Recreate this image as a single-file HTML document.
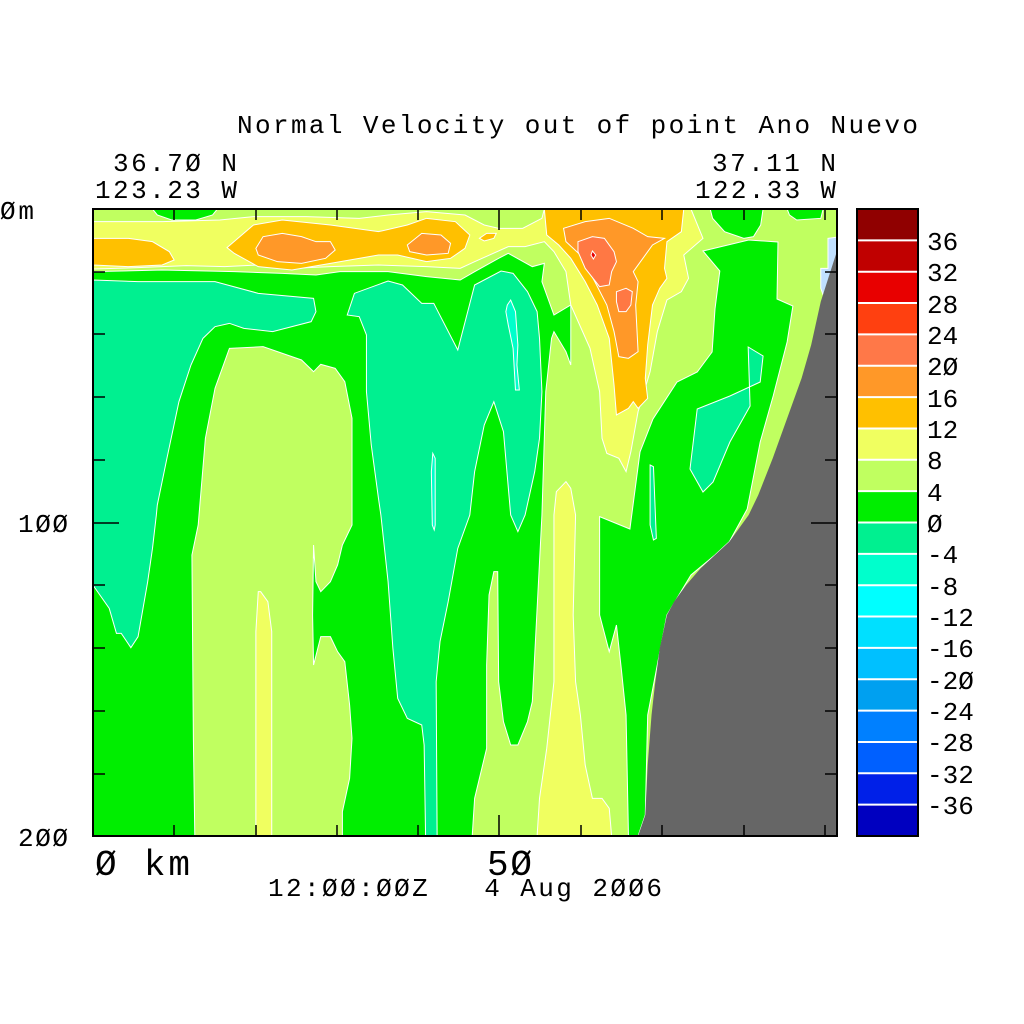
<!DOCTYPE html>
<html><head><meta charset="utf-8"><style>
html,body{margin:0;padding:0;background:#fff;}
svg{display:block;}
text{font-family:"Liberation Mono","DejaVu Sans Mono",monospace;fill:#000;white-space:pre;}
</style></head><body>
<svg width="1024" height="1024" viewBox="0 0 1024 1024" xmlns="http://www.w3.org/2000/svg" xml:space="preserve">
<defs><clipPath id="pc"><rect x="93" y="209" width="744" height="627"/></clipPath></defs>
<g clip-path="url(#pc)">
<rect x="93" y="209" width="744" height="627" fill="#00ee00"/>
<g transform="translate(90,205) scale(0.48077,0.33333)" stroke="#fff" stroke-width="1">
<polygon vector-effect="non-scaling-stroke" fill="#c0ff60" points="6,12 1554,12 1554,1893 795,1893 800,1780 825,1630 825,1380 830,1170 840,1100 848,1100 850,1430 860,1550 875,1620 890,1620 910,1550 920,1490 940,930 948,560 960,400 965,380 990,440 1000,480 1000,300 965,330 940,230 945,175 920,185 870,145 850,160 800,200 770,225 700,215 620,200 520,200 470,210 400,205 300,200 150,195 6,200"/>
<polygon vector-effect="non-scaling-stroke" fill="#00ee00" points="130,12 265,12 255,30 220,45 170,45 140,30"/>
<polygon vector-effect="non-scaling-stroke" fill="#00ee00" points="1290,12 1400,12 1395,60 1380,95 1360,100 1320,80 1295,40"/>
<polygon vector-effect="non-scaling-stroke" fill="#00ee00" points="1450,12 1525,12 1520,40 1470,45 1455,30"/>
<polygon vector-effect="non-scaling-stroke" fill="#00ee00" points="1275,138 1370,105 1431,111 1429,282 1462,303 1450,411 1421,573 1394,711 1367,912 1330,1010 1300,1050 1250,1110 1200,1230 1180,1380 1160,1530 1155,1830 1140,1893 1120,1893 1115,1530 1105,1390 1095,1260 1080,1340 1060,1230 1060,935 1123,972 1144,741 1171,642 1221,531 1263,501 1294,441 1300,312 1310,198"/>
<polygon vector-effect="non-scaling-stroke" fill="#00f090" points="6,225 100,230 260,230 350,265 465,280 470,320 460,350 380,380 320,370 290,355 260,365 235,400 210,480 185,590 160,760 140,900 138,930 130,1030 120,1130 100,1295 85,1328 65,1285 55,1285 40,1210 6,1140"/>
<polygon vector-effect="non-scaling-stroke" fill="#00f090" points="535,330 550,265 620,228 650,240 690,295 715,295 765,435 800,240 855,198 880,205 910,260 930,320 935,400 940,560 935,700 925,800 905,930 890,980 875,930 860,680 840,590 820,660 800,800 790,930 765,1030 745,1190 728,1310 720,1430 722,1893 698,1893 695,1620 690,1560 660,1540 640,1480 630,1330 620,1130 605,930 600,880 585,720 575,560 575,390 560,335"/>
<polygon vector-effect="non-scaling-stroke" fill="#00f090" points="1369,426 1400,453 1394,531 1331,573 1263,612 1248,792 1275,861 1296,831 1331,711 1373,603"/>
<polygon vector-effect="non-scaling-stroke" fill="#00f090" points="1165,780 1172,785 1178,1000 1172,1005 1165,960"/>
<polygon vector-effect="non-scaling-stroke" fill="#00ffcc" points="868,300 875,285 885,320 890,420 888,480 893,555 885,555 880,430 870,360 865,320"/>
<polygon vector-effect="non-scaling-stroke" fill="#00ffcc" points="713,745 718,760 718,960 716,975 712,960 710,800"/>
<polygon vector-effect="non-scaling-stroke" fill="#c0ff60" points="290,430 360,425 440,465 465,500 480,478 510,490 530,530 545,640 545,960 525,1020 515,1080 500,1130 480,1160 470,1130 465,1020 463,1230 465,1380 480,1295 500,1295 515,1340 530,1370 540,1500 545,1600 540,1720 525,1820 525,1893 218,1893 215,1600 212,1050 225,960 240,700 260,550"/>
<polygon vector-effect="non-scaling-stroke" fill="#f0ff60" points="350,1160 355,1160 370,1190 378,1280 378,1893 345,1893 345,1280"/>
<polygon vector-effect="non-scaling-stroke" fill="#f0ff60" points="970,860 990,830 1000,850 1010,930 1005,1230 1010,1430 1020,1530 1030,1680 1045,1780 1065,1780 1080,1810 1085,1893 930,1893 935,1780 950,1630 965,1430 965,930"/>
<polygon vector-effect="non-scaling-stroke" fill="#f0ff60" points="6,50 150,50 270,45 340,35 450,35 560,40 620,30 700,20 780,30 820,60 850,70 900,70 940,40 945,12 1250,12 1275,100 1235,150 1245,220 1230,260 1200,285 1180,380 1165,500 1140,620 1125,740 1115,800 1100,760 1075,745 1065,700 1060,560 1040,430 1000,300 990,200 965,140 945,110 905,125 870,125 800,170 770,190 700,185 600,180 500,185 420,190 350,180 280,185 200,182 100,188 6,192"/>
<polygon vector-effect="non-scaling-stroke" fill="#ffc000" points="6,100 80,100 130,110 165,140 175,165 150,180 80,185 6,180"/>
<polygon vector-effect="non-scaling-stroke" fill="#ffc000" points="285,128 340,60 400,45 500,60 600,80 660,60 700,40 760,50 790,90 780,130 750,160 700,170 640,150 600,150 500,175 420,195 350,185 300,145"/>
<polygon vector-effect="non-scaling-stroke" fill="#ffc000" points="810,100 825,85 845,85 840,100 820,108"/>
<polygon vector-effect="non-scaling-stroke" fill="#ffc000" points="945,12 1235,12 1230,80 1200,110 1195,190 1200,220 1185,250 1170,300 1160,420 1155,520 1160,580 1140,610 1130,590 1120,610 1095,630 1090,540 1080,400 1055,300 1030,230 1000,160 975,120 950,90"/>
<polygon vector-effect="non-scaling-stroke" fill="#ff9828" points="345,130 360,95 400,85 440,95 470,110 500,110 510,135 490,160 440,175 390,170 350,150"/>
<polygon vector-effect="non-scaling-stroke" fill="#ff9828" points="660,120 690,85 730,90 750,115 745,145 700,150 665,140"/>
<polygon vector-effect="non-scaling-stroke" fill="#ff9828" points="985,70 1030,50 1080,40 1130,70 1160,95 1195,100 1170,120 1130,200 1140,230 1135,300 1140,440 1120,460 1100,455 1090,380 1075,300 1050,230 1020,150 990,110"/>
<polygon vector-effect="non-scaling-stroke" fill="#ff7844" points="1015,110 1045,95 1070,100 1090,140 1095,170 1085,200 1080,240 1060,245 1030,190 1015,140"/>
<polygon vector-effect="non-scaling-stroke" fill="#ff7844" points="1095,260 1115,250 1128,260 1125,300 1115,320 1100,320 1095,290"/>
<polygon vector-effect="non-scaling-stroke" fill="#e80000" points="1045,138 1052,150 1047,162 1042,150"/>
<polygon vector-effect="non-scaling-stroke" fill="#c0e0ff" points="1535,100 1560,95 1554,140 1530,290 1520,250 1520,190 1535,190"/>
<polygon fill="#666666" stroke="none" points="1560,110 1540,200 1520,290 1500,420 1480,520 1450,640 1420,760 1390,870 1370,930 1330,1010 1300,1050 1270,1090 1240,1140 1215,1190 1200,1230 1185,1330 1175,1440 1168,1530 1160,1680 1155,1830 1140,1893 1600,1893 1600,110"/>
</g>
</g>
<rect x="93" y="209" width="744" height="627" fill="none" stroke="#000" stroke-width="2"/>
<g stroke="#000" stroke-width="1.5">
<line x1="93" y1="272" x2="105" y2="272"/><line x1="93" y1="334" x2="105" y2="334"/><line x1="93" y1="397" x2="105" y2="397"/><line x1="93" y1="460" x2="105" y2="460"/><line x1="93" y1="523" x2="119" y2="523"/><line x1="93" y1="585" x2="105" y2="585"/><line x1="93" y1="648" x2="105" y2="648"/><line x1="93" y1="711" x2="105" y2="711"/><line x1="93" y1="774" x2="105" y2="774"/><line x1="93" y1="836" x2="119" y2="836"/>
<line x1="837" y1="272" x2="825" y2="272"/><line x1="837" y1="334" x2="825" y2="334"/><line x1="837" y1="397" x2="825" y2="397"/><line x1="837" y1="460" x2="825" y2="460"/><line x1="837" y1="523" x2="811" y2="523"/><line x1="837" y1="585" x2="825" y2="585"/><line x1="837" y1="648" x2="825" y2="648"/><line x1="837" y1="711" x2="825" y2="711"/><line x1="837" y1="774" x2="825" y2="774"/>
<line x1="174" y1="209" x2="174" y2="220"/><line x1="256" y1="209" x2="256" y2="220"/><line x1="337" y1="209" x2="337" y2="220"/><line x1="418" y1="209" x2="418" y2="220"/><line x1="499" y1="209" x2="499" y2="230"/><line x1="581" y1="209" x2="581" y2="220"/><line x1="662" y1="209" x2="662" y2="220"/><line x1="744" y1="209" x2="744" y2="220"/><line x1="825" y1="209" x2="825" y2="220"/>
<line x1="174" y1="836" x2="174" y2="825"/><line x1="256" y1="836" x2="256" y2="825"/><line x1="337" y1="836" x2="337" y2="825"/><line x1="418" y1="836" x2="418" y2="825"/><line x1="499" y1="836" x2="499" y2="815"/><line x1="581" y1="836" x2="581" y2="825"/><line x1="662" y1="836" x2="662" y2="825"/><line x1="744" y1="836" x2="744" y2="825"/><line x1="825" y1="836" x2="825" y2="825"/>
</g>
<g>
<rect x="857" y="209.00" width="61" height="31.35" fill="#900000"/>
<rect x="857" y="240.35" width="61" height="31.35" fill="#c00000"/>
<rect x="857" y="271.70" width="61" height="31.35" fill="#e80000"/>
<rect x="857" y="303.05" width="61" height="31.35" fill="#ff4010"/>
<rect x="857" y="334.40" width="61" height="31.35" fill="#ff7848"/>
<rect x="857" y="365.75" width="61" height="31.35" fill="#ff9828"/>
<rect x="857" y="397.10" width="61" height="31.35" fill="#ffc000"/>
<rect x="857" y="428.45" width="61" height="31.35" fill="#f0ff60"/>
<rect x="857" y="459.80" width="61" height="31.35" fill="#c0ff60"/>
<rect x="857" y="491.15" width="61" height="31.35" fill="#00ee00"/>
<rect x="857" y="522.50" width="61" height="31.35" fill="#00f090"/>
<rect x="857" y="553.85" width="61" height="31.35" fill="#00ffcc"/>
<rect x="857" y="585.20" width="61" height="31.35" fill="#00ffff"/>
<rect x="857" y="616.55" width="61" height="31.35" fill="#00e0ff"/>
<rect x="857" y="647.90" width="61" height="31.35" fill="#00c0ff"/>
<rect x="857" y="679.25" width="61" height="31.35" fill="#00a0f0"/>
<rect x="857" y="710.60" width="61" height="31.35" fill="#0080ff"/>
<rect x="857" y="741.95" width="61" height="31.35" fill="#0060ff"/>
<rect x="857" y="773.30" width="61" height="31.35" fill="#0020e8"/>
<rect x="857" y="804.65" width="61" height="31.35" fill="#0000c0"/>
<g stroke="#fff" stroke-width="2">
<line x1="857" x2="918" y1="240.35" y2="240.35"/><line x1="857" x2="918" y1="271.7" y2="271.7"/><line x1="857" x2="918" y1="303.05" y2="303.05"/><line x1="857" x2="918" y1="334.4" y2="334.4"/><line x1="857" x2="918" y1="365.75" y2="365.75"/><line x1="857" x2="918" y1="397.1" y2="397.1"/><line x1="857" x2="918" y1="428.45" y2="428.45"/><line x1="857" x2="918" y1="459.8" y2="459.8"/><line x1="857" x2="918" y1="491.15" y2="491.15"/><line x1="857" x2="918" y1="522.5" y2="522.5"/><line x1="857" x2="918" y1="553.85" y2="553.85"/><line x1="857" x2="918" y1="585.2" y2="585.2"/><line x1="857" x2="918" y1="616.55" y2="616.55"/><line x1="857" x2="918" y1="647.9" y2="647.9"/><line x1="857" x2="918" y1="679.25" y2="679.25"/><line x1="857" x2="918" y1="710.6" y2="710.6"/><line x1="857" x2="918" y1="741.95" y2="741.95"/><line x1="857" x2="918" y1="773.3" y2="773.3"/><line x1="857" x2="918" y1="804.65" y2="804.65"/>
</g>
<rect x="857" y="209" width="61" height="627" fill="none" stroke="#000" stroke-width="2"/>
</g>
<g font-size="26">
<text x="927" y="250">36</text><text x="927" y="281">32</text><text x="927" y="313">28</text><text x="927" y="344">24</text><text x="927" y="375">2Ø</text><text x="927" y="407">16</text><text x="927" y="438">12</text><text x="927" y="469">8</text><text x="927" y="501">4</text><text x="927" y="532">Ø</text>
<text x="927" y="563">-4</text><text x="927" y="595">-8</text><text x="927" y="626">-12</text><text x="927" y="657">-16</text><text x="927" y="689">-2Ø</text><text x="927" y="720">-24</text><text x="927" y="751">-28</text><text x="927" y="783">-32</text><text x="927" y="814">-36</text>
</g>
<g font-size="26">
<text x="237" y="133" textLength="681" lengthAdjust="spacing">Normal Velocity out of point Ano Nuevo</text>
<text x="113" y="171" textLength="124" lengthAdjust="spacing">36.7Ø N</text>
<text x="95" y="198" textLength="142" lengthAdjust="spacing">123.23 W</text>
<text x="712" y="171" textLength="124" lengthAdjust="spacing">37.11 N</text>
<text x="695" y="198" textLength="141" lengthAdjust="spacing">122.33 W</text>
<text x="0" y="219" textLength="34" lengthAdjust="spacing">Øm</text>
<text x="18" y="532" textLength="50" lengthAdjust="spacing">1ØØ</text>
<text x="18" y="846" textLength="50" lengthAdjust="spacing">2ØØ</text>
<text x="268" y="896" textLength="394" lengthAdjust="spacing">12:ØØ:ØØZ   4 Aug 2ØØ6</text>
</g>
<g font-size="36">
<text x="95" y="875" textLength="95" lengthAdjust="spacing">Ø km</text>
<text x="487" y="875" textLength="45" lengthAdjust="spacing">5Ø</text>
</g>
</svg>
</body></html>
